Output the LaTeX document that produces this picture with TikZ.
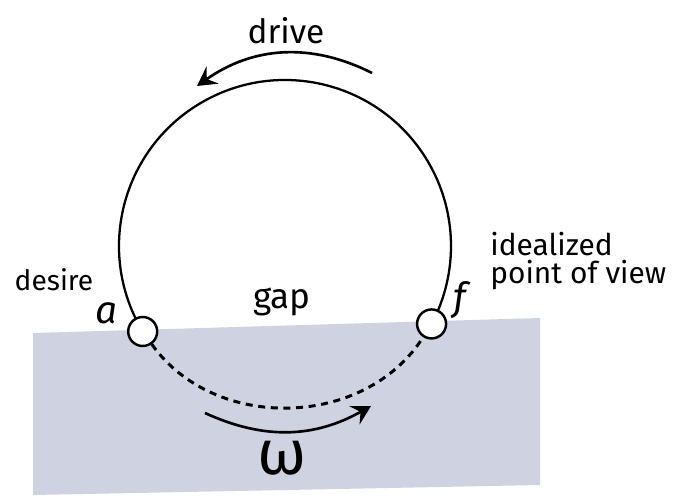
\documentclass[tikz,border=0pt]{standalone}
\usepackage{fontspec}
\setmainfont{Fira Sans}
\usetikzlibrary{arrows.meta,positioning}
\definecolor{slab}{RGB}{207,211,225}
\tikzset{
  ring/.style={draw=black, line width=1.3pt},
  hole/.style={circle, draw=black, line width=1.4pt, fill=white, minimum size=0.58cm, inner sep=0pt},
  gapline/.style={draw=black, line width=1.7pt, dash pattern=on 4pt off 3.2pt},
  turn/.style={->, line width=1.5pt},
  word/.style={inner sep=0pt, font=\fontsize{17}{16}\selectfont}
}

\begin{document}
\begin{tikzpicture}[>={Stealth[length=3.8mm, width=4.2mm, inset=1.4mm]}, x=0.02cm, y=0.02cm]
  \useasboundingbox (0,0) rectangle (692,498);
  \fill[slab] (33,165) -- (540,180) -- (540,13) -- (33,3) -- cycle;
  \coordinate (ctr) at (285,252);
  \draw[ring] ([shift={(211:166)}]ctr) arc[start angle=211, end angle=-28, radius=166];
  \node[hole] (a) at ([shift={(211:166)}]ctr) {};
  \node[hole] (f) at ([shift={(-28:166)}]ctr) {};
  \draw[gapline] (a) to[bend right=56, looseness=1.02] (f);
  \coordinate (drive start) at (372,425);
  \coordinate (drive end) at (197,412);
  \draw[turn] (drive start) to[bend right=31] (drive end);
  \coordinate (omega start) at (205,85);
  \coordinate (omega end) at (371,92);
  \draw[turn] (omega start) to[bend right=27] (omega end);
  \node[word, font=\fontsize{19}{20}\selectfont] (drive) at (286,467) {drive};
  \node[word, font=\fontsize{16}{18}\selectfont, anchor=base] (desire) at (54,208) {desire};
  \node[word, font=\fontsize{20}{22}\selectfont, anchor=base] (gap) at (282,190) {gap};
  \node[word, anchor=north west, align=left] (view) at (490,266) {idealized\\point of view};
  \node[word, font=\fontsize{22}{22}\itshape] (alabel) at (106,185) {a};
  \node[word, font=\fontsize{22}{22}\itshape] (flabel) at (460,198) {f};
  \node[word, font=\fontsize{36}{38}\selectfont] (omega) at (282,40) {ω};
\end{tikzpicture}
\end{document}
